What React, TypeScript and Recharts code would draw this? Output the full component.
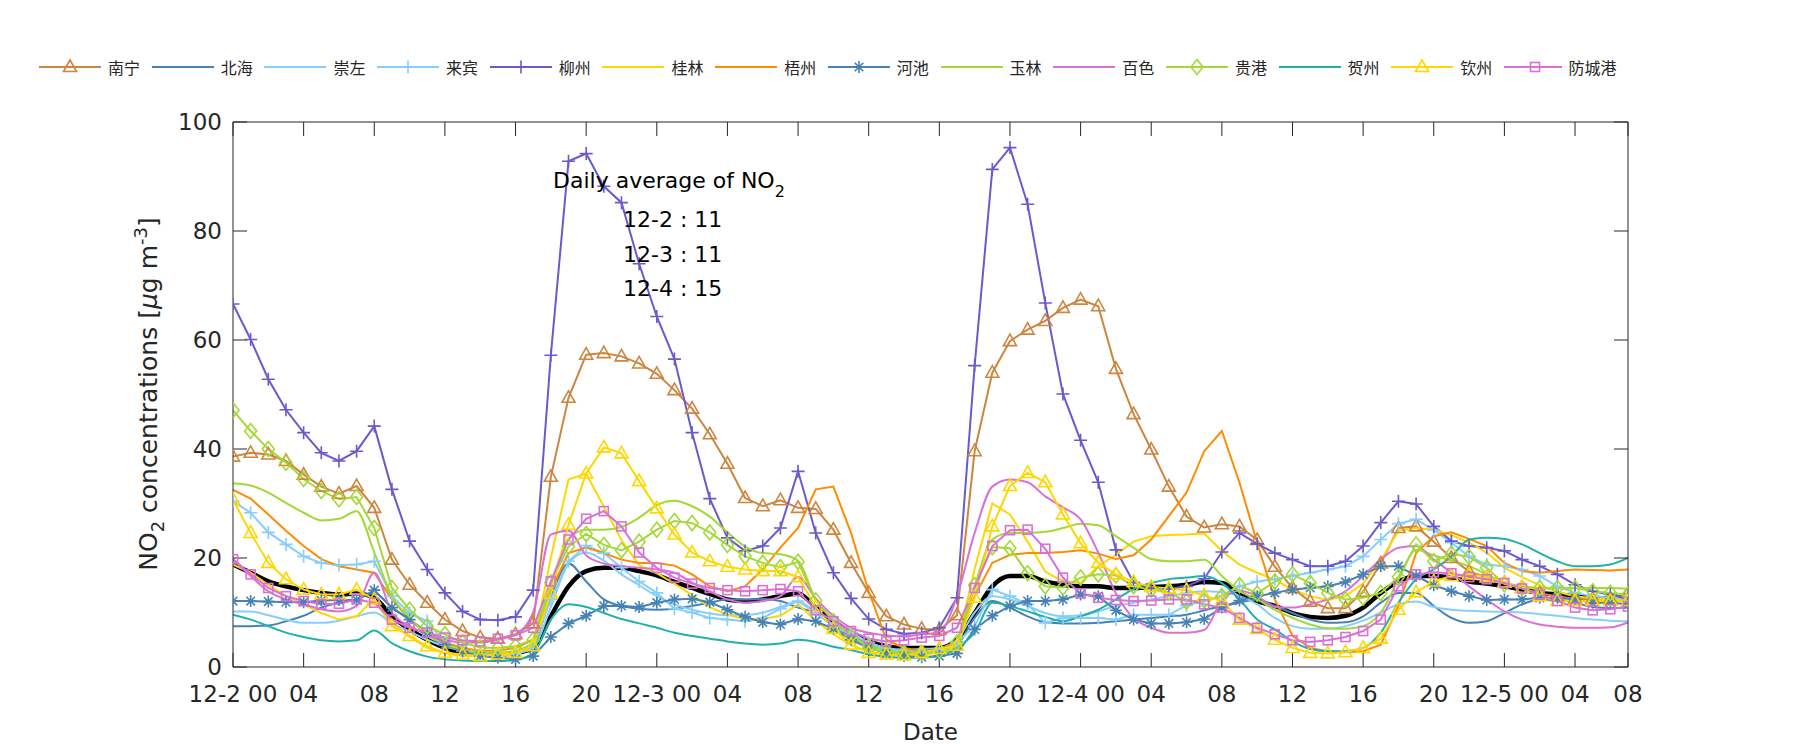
import React from 'react';
import { LineChart, Line, XAxis, YAxis } from 'recharts';

// ---- categories / ticks ----
const HOURS = Array.from({ length: 80 }, (_, i) => i); // hourly steps from 12-2 00
const TICK_POS = [0, 4, 8, 12, 16, 20, 24, 28, 32, 36, 40, 44, 48, 52, 56, 60, 64, 68, 72, 76, 79];
const TICK_LABELS = ['12-2 00', '04', '08', '12', '16', '20', '12-3 00', '04', '08', '12', '16', '20',
  '12-4 00', '04', '08', '12', '16', '20', '12-5 00', '04', '08'];
const Y_TICKS = [0, 20, 40, 60, 80, 100];

// ---- series values (µg m-3) ----
const NANNING = [38.6, 39.3, 39.0, 37.8, 35.3, 33.1, 31.8, 33.2, 29.2, 19.7,
  15.1, 11.8, 8.7, 6.6, 5.4, 5.2, 6.0, 8.0, 34.9, 49.4,
  57.3, 57.6, 57.0, 55.7, 53.8, 50.8, 47.4, 42.7, 37.3, 31.0,
  29.5, 30.6, 29.2, 29.0, 25.2, 19.1, 13.6, 9.3, 7.8, 7.0,
  6.8, 9.5, 39.6, 54.0, 59.8, 61.9, 63.5, 65.9, 67.4, 66.2,
  54.7, 46.4, 39.9, 33.1, 27.6, 25.6, 26.2, 25.8, 23.3, 18.4,
  14.5, 12.0, 10.8, 10.8, 13.8, 19.0, 25.5, 25.8, 23.0, 20.0,
  17.5, 16.5, 15.5, 14.5, 13.5, 13.0, 12.5, 12.5, 12.5, 13.5];
const BEIHAI = [7.5, 7.5, 7.6, 8.4, 9.4, 10.9, 11.8, 12.4, 13.6, 10.9,
  8.7, 6.0, 4.0, 3.0, 2.5, 2.3, 2.5, 4.0, 13.0, 19.0,
  15.7, 12.4, 11.2, 10.7, 10.5, 10.7, 11.2, 11.8, 12.4, 12.4,
  12.5, 12.1, 10.9, 9.9, 7.5, 5.5, 4.0, 3.0, 2.6, 2.5,
  2.7, 4.0, 9.0, 12.1, 10.9, 9.3, 8.2, 8.0, 8.0, 8.1,
  8.4, 8.7, 9.0, 9.3, 9.6, 10.4, 11.2, 11.8, 12.4, 11.2,
  9.9, 8.7, 8.1, 8.2, 9.3, 11.8, 13.6, 13.6, 11.2, 9.0,
  8.1, 8.4, 9.9, 11.5, 12.4, 12.3, 11.8, 11.0, 10.8, 10.9];
const CHONGZUO = [10.2, 10.2, 9.5, 8.7, 8.1, 8.1, 8.5, 9.3, 10.0, 8.0,
  6.5, 5.0, 3.8, 3.0, 2.5, 2.3, 2.5, 3.5, 11.0, 19.0,
  21.0, 19.5, 17.0, 15.0, 13.0, 11.5, 10.5, 9.8, 9.5, 9.5,
  10.0, 11.0, 12.0, 10.0, 7.5, 6.0, 4.5, 3.5, 3.2, 3.3,
  3.5, 5.0, 10.0, 13.0, 12.4, 11.2, 9.9, 9.3, 9.5, 10.2,
  11.2, 11.8, 12.4, 13.0, 13.6, 13.9, 13.7, 13.0, 11.5, 9.0,
  7.5, 7.0, 7.0, 7.5, 8.5, 10.0, 11.5, 12.0, 11.0, 10.5,
  10.3, 10.2, 10.1, 10.0, 9.7, 9.4, 9.0, 8.7, 8.5, 8.4];
const LAIBIN = [30.4, 28.3, 24.7, 22.5, 20.3, 19.1, 18.7, 18.8, 19.4, 13.0,
  9.9, 8.4, 4.4, 2.9, 2.3, 2.0, 2.3, 3.5, 12.4, 19.4,
  22.3, 20.9, 18.2, 15.7, 13.6, 10.7, 10.0, 9.0, 8.7, 8.4,
  9.0, 10.7, 12.1, 9.9, 7.8, 6.3, 4.5, 3.3, 2.8, 2.8,
  3.0, 4.5, 7.5, 14.2, 13.0, 11.5, 8.1, 9.0, 9.0, 9.0,
  8.7, 9.6, 9.6, 9.6, 11.3, 12.1, 13.0, 14.8, 15.7, 16.1,
  16.7, 17.3, 17.9, 18.5, 20.3, 23.4, 26.3, 27.1, 25.1, 22.8,
  20.3, 18.8, 18.5, 17.9, 16.7, 14.8, 13.6, 13.0, 12.7, 12.4];
const LIUZHOU = [66.6, 60.1, 52.8, 47.2, 43.0, 39.3, 37.8, 39.6, 44.2, 32.6,
  23.1, 17.9, 13.6, 10.2, 8.7, 8.6, 9.2, 14.1, 57.2, 92.8,
  94.2, 88.2, 85.2, 74.0, 64.3, 56.5, 43.0, 30.9, 23.7, 21.3,
  22.2, 25.5, 35.9, 24.6, 17.3, 12.6, 8.8, 6.9, 6.1, 6.3,
  7.2, 12.7, 55.3, 91.3, 95.3, 84.9, 66.8, 50.1, 41.6, 33.9,
  21.5, 15.5, 14.5, 14.3, 14.8, 16.2, 21.1, 24.6, 22.6, 20.9,
  19.7, 18.5, 18.5, 19.4, 22.2, 26.5, 30.4, 29.9, 25.8, 23.1,
  22.2, 21.9, 21.3, 19.7, 18.5, 17.0, 15.1, 13.9, 13.3, 12.7];
const GUILIN = [18.8, 17.3, 15.1, 13.0, 11.5, 9.9, 8.7, 9.3, 12.5, 8.0,
  5.5, 3.5, 2.5, 2.0, 2.0, 2.0, 2.5, 4.0, 20.0, 34.4,
  35.5, 29.4, 23.3, 18.7, 17.2, 15.3, 13.2, 11.0, 9.6, 8.8,
  8.8, 9.4, 11.5, 8.5, 6.0, 4.0, 2.8, 2.3, 2.2, 2.3,
  2.6, 4.0, 18.0, 30.0, 28.0, 23.0, 17.5, 15.7, 15.4, 18.5,
  20.6, 23.0, 24.0, 24.2, 24.3, 24.5, 21.3, 18.8, 17.3, 16.0,
  14.2, 13.0, 12.3, 13.0, 15.3, 19.5, 25.0, 25.5, 25.2, 24.2,
  22.8, 21.0, 18.2, 16.5, 15.0, 13.8, 13.0, 12.6, 12.4, 12.2];
const WUZHOU = [32.5, 30.9, 28.0, 25.0, 22.2, 19.8, 18.5, 17.9, 17.3, 12.4,
  8.7, 6.3, 4.5, 3.5, 3.0, 3.0, 3.5, 5.0, 14.0, 20.9,
  21.9, 20.9, 19.7, 19.1, 19.1, 18.6, 17.0, 14.8, 13.9, 14.8,
  17.9, 21.9, 25.5, 32.6, 33.1, 24.6, 13.9, 5.0, 3.5, 2.9,
  3.2, 4.7, 13.0, 19.1, 20.6, 20.9, 20.9, 21.1, 21.4, 20.8,
  19.8, 20.5, 23.4, 27.7, 32.0, 39.6, 43.3, 33.8, 22.8, 12.4,
  5.7, 3.5, 2.9, 2.7, 2.9, 4.1, 11.2, 20.9, 24.0, 24.7,
  23.5, 22.2, 19.1, 17.6, 17.3, 17.6, 17.9, 17.8, 17.7, 17.9];
const HECHI = [12.1, 12.1, 12.0, 11.9, 11.9, 12.2, 12.3, 12.3, 14.1, 10.9,
  8.7, 6.3, 4.1, 2.9, 2.0, 1.7, 1.4, 2.0, 5.5, 8.0,
  9.4, 11.2, 11.2, 11.0, 11.8, 12.4, 12.5, 11.9, 10.5, 9.2,
  8.2, 7.8, 8.8, 8.4, 7.0, 5.0, 3.5, 2.5, 2.0, 1.8,
  2.0, 2.5, 6.9, 9.4, 11.2, 12.1, 12.1, 12.4, 13.3, 13.0,
  10.4, 8.7, 8.0, 8.0, 8.2, 8.8, 10.9, 12.2, 13.0, 13.6,
  14.2, 14.5, 14.8, 15.6, 17.0, 18.5, 18.5, 16.7, 15.0, 13.9,
  13.0, 12.3, 12.4, 12.4, 12.7, 12.7, 12.4, 11.8, 11.8, 11.5];
const YULIN = [33.7, 33.3, 32.0, 30.1, 28.3, 26.9, 27.2, 28.6, 21.0, 13.0,
  9.0, 6.0, 4.2, 3.2, 2.6, 2.6, 3.0, 4.5, 15.0, 23.5,
  25.2, 25.2, 25.7, 27.4, 29.7, 30.5, 29.5, 27.6, 24.7, 22.1,
  20.9, 20.7, 19.5, 12.4, 8.7, 6.0, 3.6, 2.8, 2.5, 2.5,
  2.7, 4.0, 14.8, 23.4, 24.6, 24.6, 24.8, 25.5, 26.3, 26.0,
  24.0, 21.9, 19.8, 19.4, 19.4, 19.7, 16.7, 13.9, 12.4, 10.5,
  9.0, 7.8, 7.1, 7.0, 7.5, 10.0, 16.0, 21.5, 20.5, 19.5,
  18.5, 17.0, 15.5, 14.8, 14.5, 14.4, 14.4, 14.5, 14.5, 14.3];
const BAISE = [19.7, 16.7, 13.9, 12.4, 11.5, 10.6, 10.2, 11.2, 17.3, 10.0,
  7.5, 6.0, 5.0, 4.5, 4.5, 5.0, 6.0, 10.0, 24.3, 25.0,
  20.5, 19.0, 18.5, 18.2, 17.9, 17.3, 15.5, 13.9, 12.4, 11.8,
  12.1, 13.0, 16.5, 12.6, 9.4, 7.2, 6.3, 5.8, 5.6, 6.0,
  6.3, 13.0, 24.6, 33.1, 34.4, 33.9, 31.3, 29.3, 27.1, 21.0,
  13.5, 9.0, 7.2, 6.3, 6.3, 6.8, 12.2, 14.0, 13.0, 11.0,
  10.9, 11.5, 12.4, 13.9, 16.7, 19.7, 21.9, 22.2, 19.7, 17.3,
  14.8, 12.4, 10.2, 8.7, 7.8, 7.4, 7.2, 7.2, 7.3, 8.2];
const GUIGANG = [47.1, 43.3, 40.0, 37.5, 34.5, 32.3, 30.8, 31.2, 25.5, 14.5,
  10.5, 7.5, 6.0, 4.5, 3.6, 3.5, 3.8, 5.0, 15.5, 22.1,
  24.4, 22.4, 21.4, 23.0, 25.2, 26.8, 26.4, 24.7, 22.4, 20.3,
  19.1, 18.3, 19.3, 12.2, 8.4, 5.7, 3.8, 3.0, 2.6, 2.6,
  3.0, 4.5, 15.0, 22.0, 21.8, 17.2, 14.8, 14.6, 16.4, 17.0,
  16.8, 14.8, 14.2, 13.7, 12.0, 12.2, 13.0, 15.0, 13.5, 15.7,
  17.0, 15.4, 13.6, 12.4, 12.7, 13.6, 16.5, 22.5, 19.4, 20.8,
  20.2, 18.2, 15.2, 14.5, 14.5, 14.5, 14.5, 13.9, 13.6, 13.3];
const HEZHOU = [9.6, 8.7, 7.5, 6.3, 5.5, 4.9, 4.7, 4.9, 6.7, 4.4,
  2.9, 1.9, 1.4, 1.2, 1.1, 1.1, 1.3, 2.5, 8.7, 11.5,
  11.0, 9.9, 8.8, 8.0, 7.2, 6.3, 5.7, 5.2, 4.7, 4.3,
  4.1, 4.3, 5.0, 4.6, 3.7, 3.1, 2.3, 1.9, 1.7, 1.7,
  2.0, 3.5, 6.3, 11.8, 11.2, 10.2, 9.2, 8.4, 9.3, 10.5,
  12.4, 14.3, 15.4, 16.1, 16.4, 16.7, 15.4, 12.4, 8.7, 6.9,
  4.7, 3.3, 2.9, 2.9, 3.5, 6.3, 11.8, 16.1, 17.9, 20.3,
  23.4, 23.7, 23.5, 22.5, 20.9, 19.4, 18.5, 18.5, 18.8, 20.0];
const QINZHOU = [30.7, 24.6, 19.1, 16.1, 14.2, 13.3, 13.3, 14.2, 12.4, 7.5,
  5.7, 3.8, 2.6, 2.3, 2.0, 2.3, 2.6, 3.8, 13.5, 26.1,
  35.5, 40.3, 39.2, 34.1, 29.1, 24.3, 21.0, 19.4, 18.4, 17.9,
  17.6, 17.6, 16.5, 11.0, 7.0, 4.1, 2.6, 2.3, 2.1, 2.6,
  3.3, 3.9, 12.7, 25.8, 33.2, 35.6, 33.9, 28.0, 22.7, 19.1,
  17.0, 15.6, 14.7, 14.4, 14.1, 13.1, 12.1, 8.7, 7.0, 5.0,
  3.5, 2.6, 2.5, 2.7, 3.5, 5.2, 10.5, 13.7, 15.7, 16.7,
  17.0, 16.5, 15.5, 14.5, 13.0, 12.1, 12.1, 12.1, 12.1, 12.1];
const FANGCHENGGANG = [19.8, 17.0, 14.5, 13.0, 12.1, 11.5, 11.6, 12.4, 11.8, 8.7,
  7.2, 6.3, 5.4, 4.9, 4.7, 5.2, 5.8, 7.2, 15.7, 23.4,
  27.2, 28.6, 25.8, 21.0, 18.2, 16.4, 15.3, 14.5, 14.1, 13.9,
  14.1, 14.3, 13.9, 10.4, 8.4, 6.6, 5.2, 4.7, 4.9, 5.4,
  5.7, 7.2, 14.5, 22.2, 25.1, 25.2, 21.7, 16.4, 13.5, 12.7,
  12.3, 12.1, 12.2, 12.4, 12.4, 11.5, 10.9, 9.0, 7.2, 6.0,
  4.9, 4.6, 4.9, 5.5, 6.6, 8.7, 14.8, 17.0, 17.4, 17.2,
  16.5, 16.1, 15.4, 14.4, 13.3, 12.1, 10.9, 10.4, 10.6, 11.1];
const AVERAGE = [18.8, 17.3, 15.7, 14.8, 14.1, 13.6, 13.3, 13.5, 12.7, 9.3,
  6.9, 5.0, 3.5, 2.6, 2.3, 2.3, 2.6, 3.5, 9.3, 14.8,
  17.6, 18.2, 18.2, 17.6, 16.8, 15.6, 14.5, 13.4, 12.4, 12.1,
  12.4, 13.0, 13.5, 10.9, 8.4, 6.3, 4.7, 3.8, 3.5, 3.5,
  3.5, 5.0, 9.9, 14.8, 16.7, 16.7, 15.7, 15.1, 14.8, 14.8,
  14.5, 14.5, 14.7, 14.8, 15.1, 15.6, 15.4, 13.6, 12.1, 11.2,
  9.9, 9.2, 9.0, 9.4, 10.9, 13.6, 15.7, 16.7, 16.7, 16.4,
  15.7, 15.3, 14.8, 14.2, 13.6, 13.3, 13.0, 12.7, 12.5, 12.4];

const DAILY_LABELS = ['12-2 : 11', '12-3 : 11', '12-4 : 15'];

const LIME = '#A3D936';
const SERIES = [
  { key: 'nanning', name: '南宁', color: '#CD853F', marker: 'triangle', data: NANNING, curve: 'linear' },
  { key: 'beihai', name: '北海', color: '#4682B4', marker: null, data: BEIHAI, curve: 'monotone' },
  { key: 'chongzuo', name: '崇左', color: '#87CEFA', marker: null, data: CHONGZUO, curve: 'monotone' },
  { key: 'laibin', name: '来宾', color: '#87CEFA', marker: 'plus', data: LAIBIN, curve: 'linear' },
  { key: 'liuzhou', name: '柳州', color: '#6A5ACD', marker: 'plus', data: LIUZHOU, curve: 'linear' },
  { key: 'guilin', name: '桂林', color: '#FFD700', marker: null, data: GUILIN, curve: 'linear' },
  { key: 'wuzhou', name: '梧州', color: '#FF8C00', marker: null, data: WUZHOU, curve: 'linear' },
  { key: 'hechi', name: '河池', color: '#4682B4', marker: 'star', data: HECHI, curve: 'linear' },
  { key: 'yulin', name: '玉林', color: LIME, marker: null, data: YULIN, curve: 'monotone' },
  { key: 'baise', name: '百色', color: '#DA70D6', marker: null, data: BAISE, curve: 'monotone' },
  { key: 'guigang', name: '贵港', color: LIME, marker: 'diamond', data: GUIGANG, curve: 'linear' },
  { key: 'hezhou', name: '贺州', color: '#20B2AA', marker: null, data: HEZHOU, curve: 'monotone' },
  { key: 'qinzhou', name: '钦州', color: '#FFD700', marker: 'triangle', data: QINZHOU, curve: 'linear' },
  { key: 'fangchenggang', name: '防城港', color: '#DA70D6', marker: 'square', data: FANGCHENGGANG, curve: 'linear' },
];

const FONT = "'DejaVu Sans', sans-serif";
const INK = '#262626';

function Marker({ kind, x, y, color }: any) {
  if (x == null || y == null || isNaN(x) || isNaN(y)) return <g />;
  const sw = 1.6;
  if (kind === 'triangle') {
    return <polygon points={`${x},${y - 7} ${x + 6.5},${y + 4.5} ${x - 6.5},${y + 4.5}`} fill="none" stroke={color} strokeWidth={sw} />;
  }
  if (kind === 'plus') {
    return <path d={`M${x - 6.5},${y}H${x + 6.5}M${x},${y - 6.5}V${y + 6.5}`} fill="none" stroke={color} strokeWidth={sw} />;
  }
  if (kind === 'star') {
    return <path d={`M${x - 6},${y}H${x + 6}M${x},${y - 6}V${y + 6}M${x - 4.3},${y - 4.3}L${x + 4.3},${y + 4.3}M${x - 4.3},${y + 4.3}L${x + 4.3},${y - 4.3}`} fill="none" stroke={color} strokeWidth={sw} />;
  }
  if (kind === 'diamond') {
    return <polygon points={`${x},${y - 7.5} ${x + 6},${y} ${x},${y + 7.5} ${x - 6},${y}`} fill="none" stroke={color} strokeWidth={sw} />;
  }
  if (kind === 'square') {
    return <rect x={x - 4.5} y={y - 4.5} width={9} height={9} fill="none" stroke={color} strokeWidth={sw} />;
  }
  return <g />;
}

function LegendBar() {
  return (
    <div style={{ position: 'absolute', left: 39, top: 56, height: 22, display: 'flex', alignItems: 'center' }}>
      {SERIES.map((s) => (
        <div key={s.key} style={{ width: 112.7, display: 'flex', alignItems: 'center', flex: 'none' }}>
          <svg width={62} height={22} style={{ display: 'block' }}>
            <line x1={0} y1={11} x2={62} y2={11} stroke={s.color} strokeWidth={2} />
            {s.marker ? <Marker kind={s.marker} x={31} y={11} color={s.color} /> : null}
          </svg>
          <span style={{ marginLeft: 7, fontFamily: "'Noto Sans CJK SC', sans-serif", fontSize: 16, color: INK, whiteSpace: 'nowrap', lineHeight: '22px' }}>{s.name}</span>
        </div>
      ))}
    </div>
  );
}

const blank = () => '';

export default function App() {
  const rows = HOURS.map((h, i) => {
    const r: any = { h, avg: AVERAGE[i] };
    SERIES.forEach((s) => { r[s.key] = s.data[i]; });
    return r;
  });
  const fmt = (v: number) => {
    const idx = TICK_POS.indexOf(v);
    return idx >= 0 ? TICK_LABELS[idx] : '';
  };
  const axisStroke = { stroke: INK, strokeWidth: 1 };
  const hiddenTick = { fontSize: 1, fill: 'none' };
  return (
    <div style={{ position: 'absolute', left: 0, top: 0, width: 1800, height: 750, background: '#fff' }}>
      <LineChart width={1800} height={750} data={rows} margin={{ top: 122, right: 172, bottom: 23, left: 153 }}>
        <XAxis xAxisId="x" type="number" dataKey="h" domain={[0, 79]} allowDataOverflow ticks={TICK_POS} interval={0}
          tickFormatter={fmt} height={60} tickLine={false} tickSize={0} tickMargin={19} axisLine={axisStroke}
          tick={{ fontFamily: FONT, fontSize: 23, fill: INK }} />
        <XAxis xAxisId="xb" type="number" dataKey="h" domain={[0, 79]} allowDataOverflow ticks={TICK_POS} interval={0}
          orientation="bottom" mirror tick={hiddenTick} tickFormatter={blank} tickSize={14} tickLine={axisStroke}
          axisLine={false} height={30} />
        <XAxis xAxisId="xt" type="number" dataKey="h" domain={[0, 79]} allowDataOverflow ticks={TICK_POS} interval={0}
          orientation="top" mirror tick={hiddenTick} tickFormatter={blank} tickSize={14} tickLine={axisStroke}
          axisLine={axisStroke} height={30} />
        <YAxis yAxisId="y" type="number" domain={[0, 100]} allowDataOverflow ticks={Y_TICKS} interval={0} width={80}
          tickLine={false} tickSize={0} tickMargin={11} axisLine={axisStroke}
          tick={{ fontFamily: FONT, fontSize: 23, fill: INK }} />
        <YAxis yAxisId="yl" type="number" domain={[0, 100]} allowDataOverflow ticks={Y_TICKS} interval={0} width={30}
          orientation="left" mirror tick={hiddenTick} tickFormatter={blank} tickSize={14} tickLine={axisStroke}
          axisLine={false} />
        <YAxis yAxisId="yr" type="number" domain={[0, 100]} allowDataOverflow ticks={Y_TICKS} interval={0} width={30}
          orientation="right" mirror tick={hiddenTick} tickFormatter={blank} tickSize={14} tickLine={axisStroke}
          axisLine={axisStroke} />
        <Line xAxisId="x" yAxisId="y" dataKey="avg" stroke="#000" strokeWidth={4.5} type="monotone" dot={false}
          activeDot={false} isAnimationActive={false} />
        {SERIES.map((s) => (
          <Line key={s.key} xAxisId="x" yAxisId="y" dataKey={s.key} name={s.name} stroke={s.color} strokeWidth={2}
            type={s.curve as any} activeDot={false} isAnimationActive={false}
            dot={s.marker ? (p: any) => <Marker key={`${s.key}-${p.index}`} kind={s.marker} x={p.cx} y={p.cy} color={s.color} /> : false} />
        ))}
      </LineChart>
      <svg width={1800} height={750} style={{ position: 'absolute', left: 0, top: 0, pointerEvents: 'none' }}>
        <text x={553} y={188} fontFamily={FONT} fontSize={22} fill="#000">
          Daily average of NO<tspan fontSize={16} dy={9}>2</tspan>
        </text>
        {DAILY_LABELS.map((t, i) => (
          <text key={t} x={623} y={227 + i * 34.6} fontFamily={FONT} fontSize={22} fill="#000">{t}</text>
        ))}
        <text x={930.5} y={740} textAnchor="middle" fontFamily={FONT} fontSize={23} fill={INK}>Date</text>
        <text transform="translate(157,394) rotate(-90)" textAnchor="middle" fontFamily={FONT} fontSize={25} fill={INK}>
          NO<tspan fontSize={18} dy={7}>2</tspan><tspan dy={-7}> concentrations [</tspan><tspan fontStyle="italic">μ</tspan>g m<tspan fontSize={18} dy={-10}>-3</tspan><tspan dy={10}>]</tspan>
        </text>
      </svg>
      <LegendBar />
    </div>
  );
}
